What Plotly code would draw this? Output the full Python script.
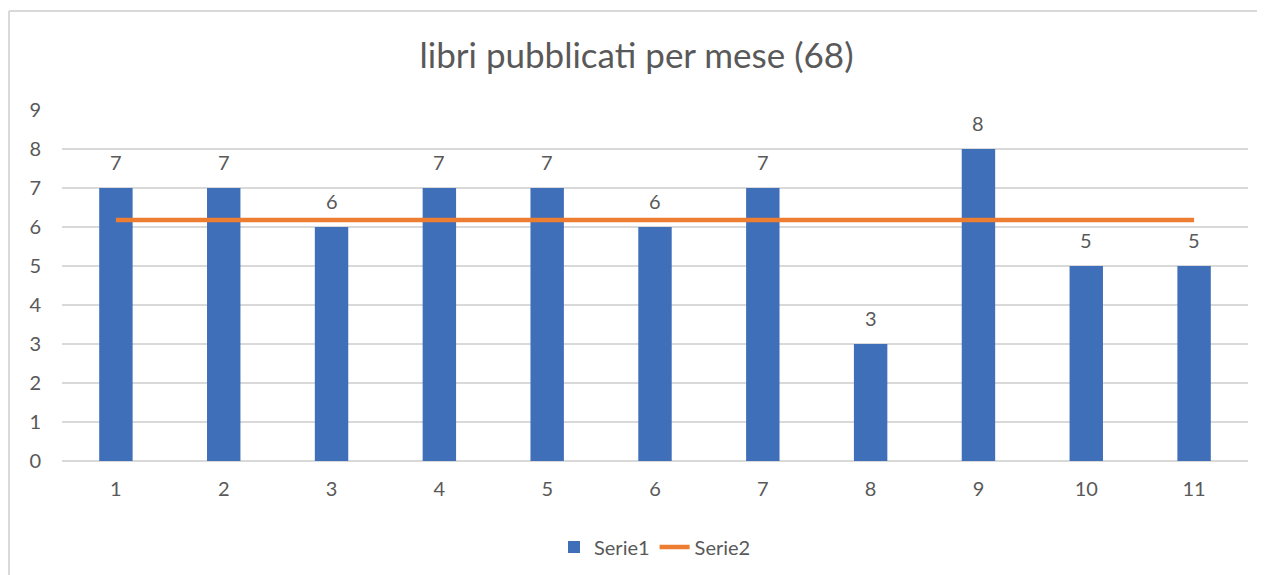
import plotly.graph_objects as go

months = [1, 2, 3, 4, 5, 6, 7, 8, 9, 10, 11]
serie1 = [7, 7, 6, 7, 7, 6, 7, 3, 8, 5, 5]
serie2 = [6.18, 6.18, 6.18, 6.18, 6.18, 6.18, 6.18, 6.18, 6.18, 6.18, 6.18]
title_text = "libri pubblicati per mese (68)"
yticks = [0, 1, 2, 3, 4, 5, 6, 7, 8, 9]

FONT = "Lato, 'Open Sans', sans-serif"
TXT = "#595959"
GRID = "#D9D9D9"

fig = go.Figure()
fig.add_trace(go.Bar(x=months, y=serie1, name="Serie1", marker_color="#3F6FB8",
                     marker_line_width=0))
fig.add_trace(go.Scatter(x=months, y=serie2, name="Serie2", mode="lines",
                         line=dict(color="#ED7D31", width=4.5)))

for m, v in zip(months, serie1):
    fig.add_annotation(x=m, y=v, text=str(v), showarrow=False, yanchor="bottom",
                       yshift=12, font=dict(family=FONT, size=20, color=TXT))

# chart border (left and top visible)
fig.add_shape(type="line", xref="paper", yref="paper", x0=-0.0447, x1=1.05,
              y0=1.282, y1=1.282, line=dict(color=GRID, width=2))
fig.add_shape(type="line", xref="paper", yref="paper", x0=-0.0447, x1=-0.0447,
              y0=1.282, y1=-0.4, line=dict(color=GRID, width=2))

fig.update_layout(
    width=1257, height=567,
    margin=dict(l=54, r=17, t=102, b=114, autoexpand=False),
    paper_bgcolor="white", plot_bgcolor="white",
    bargap=0.69,
    title=dict(text=title_text, x=0.5, xanchor="center", y=1 - 48 / 567, yanchor="middle",
               font=dict(family=FONT, size=35, color=TXT)),
    legend=dict(orientation="h", x=0.5, xanchor="center", y=-0.245, yanchor="middle",
                font=dict(family=FONT, size=20, color=TXT)),
    showlegend=True,
)
fig.update_xaxes(range=[0.5, 11.5], tickvals=months, ticktext=[str(m) for m in months],
                 showgrid=False, zeroline=False, showline=False,
                 ticks="outside", ticklen=10, tickcolor="rgba(0,0,0,0)",
                 tickfont=dict(family=FONT, size=20, color=TXT))
fig.update_yaxes(range=[0, 9], tickvals=yticks, showgrid=True, gridcolor=GRID, gridwidth=1.5,
                 zeroline=True, zerolinecolor=GRID, zerolinewidth=1.5, showline=False,
                 ticks="outside", ticklen=16, tickcolor="rgba(0,0,0,0)",
                 tickfont=dict(family=FONT, size=20, color=TXT))

fig.write_html("out.html")
